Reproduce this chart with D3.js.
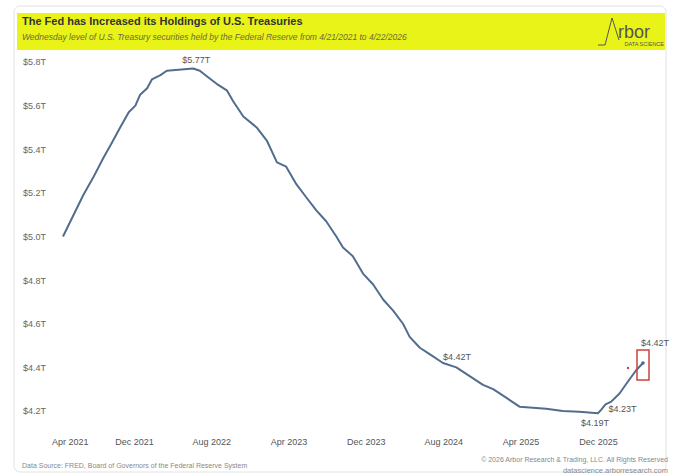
<!DOCTYPE html>
<html>
<head>
<meta charset="utf-8">
<script src="https://cdn.jsdelivr.net/npm/d3@7"></script>
<style>
  body { margin: 0; background: #fff; }
  svg { font-family: "Liberation Sans", Arial, sans-serif; }
</style>
</head>
<body>
<svg id="chart" width="675" height="476"></svg>
<script>
// weekly level (trillions of $)
var dates = ["2021-04-21","2021-05-28","2021-06-24","2021-07-25","2021-08-26","2021-09-22","2021-10-18","2021-11-14","2021-12-05","2021-12-20",
  "2022-01-11","2022-01-26","2022-02-22","2022-03-14","2022-06-05","2022-06-26","2022-07-22","2022-08-18","2022-09-19","2022-10-09","2022-11-10","2022-12-22",
  "2023-01-23","2023-02-24","2023-03-25","2023-04-26","2023-05-27","2023-06-28","2023-07-29","2023-08-30","2023-09-20","2023-10-21","2023-11-22","2023-12-24",
  "2024-01-25","2024-02-25","2024-03-27","2024-04-17","2024-05-19","2024-06-20","2024-07-31","2024-09-11","2024-10-23","2024-12-04",
  "2025-01-05","2025-02-16","2025-03-29","2025-05-10","2025-06-21","2025-08-12","2025-10-03","2025-12-01","2025-12-11","2025-12-25",
  "2026-01-12","2026-02-07","2026-03-05","2026-04-01","2026-04-22"];
var values = [5.00,5.11,5.19,5.27,5.36,5.43,5.50,5.57,5.60,5.65,
  5.68,5.72,5.74,5.76,5.77,5.76,5.73,5.70,5.67,5.62,5.55,5.50,
  5.44,5.34,5.32,5.24,5.18,5.12,5.07,5.00,4.95,4.91,4.83,4.78,
  4.71,4.66,4.60,4.54,4.49,4.46,4.42,4.40,4.36,4.32,
  4.30,4.26,4.22,4.215,4.21,4.20,4.197,4.19,4.205,4.23,
  4.243,4.28,4.334,4.388,4.42];

var xTicks = ["2021-04","2021-12","2022-08","2023-04","2023-12","2024-08","2025-04","2025-12"];
var yTicks = [4.2,4.4,4.6,4.8,5.0,5.2,5.4,5.6,5.8];

var labelDates = ["2022-06-05","2024-07-31","2025-12-01","2025-12-25","2026-04-22"];
var labelTexts = ["$5.77T","$4.42T","$4.19T","$4.23T","$4.42T"];

var parseDay = d3.timeParse("%Y-%m-%d");
var parseMonth = d3.timeParse("%Y-%m");
var data = dates.map(function(d, i) { return { date: parseDay(d), value: values[i] }; });

var svg = d3.select("#chart");

// card + header
svg.append("rect").attr("x", 14).attr("y", 6).attr("width", 652).attr("height", 466)
  .attr("rx", 6).attr("fill", "#fff").attr("stroke", "#e2e2e2");
svg.append("rect").attr("x", 17).attr("y", 13).attr("width", 648).attr("height", 37)
  .attr("fill", "#e9f317");
svg.append("text").attr("x", 22).attr("y", 25)
  .attr("font-size", 11).attr("font-weight", "bold").attr("fill", "#333")
  .text("The Fed has Increased its Holdings of U.S. Treasuries");
svg.append("text").attr("x", 22).attr("y", 40)
  .attr("font-size", 8.5).attr("font-style", "italic").attr("fill", "#6a6b3c")
  .text("Wednesday level of U.S. Treasury securities held by the Federal Reserve from 4/21/2021 to 4/22/2026");

// logo
svg.append("path").attr("d", "M598,45 L605,45 L612,18 L619,40")
  .attr("fill", "none").attr("stroke", "#555").attr("stroke-width", 1);
svg.append("text").attr("x", 618).attr("y", 38).attr("font-size", 18).attr("font-weight", 300)
  .attr("fill", "#555").text("rbor");
svg.append("text").attr("x", 664).attr("y", 46).attr("text-anchor", "end")
  .attr("font-size", 5.5).attr("fill", "#555").text("DATA SCIENCE");

// scales
var x = d3.scaleTime()
  .domain([parseDay("2021-04-21"), parseDay("2026-04-22")])
  .range([63, 643]);
var y = d3.scaleLinear().domain([4.2, 5.8]).range([411, 62]);

// y axis
var gy = svg.append("g").attr("transform", "translate(23,0)")
  .call(d3.axisLeft(y).tickValues(yTicks).tickSize(0)
    .tickFormat(function(d) { return "$" + d.toFixed(1) + "T"; }));
gy.select(".domain").remove();
gy.selectAll("text").attr("x", 0).attr("text-anchor", "start")
  .attr("font-size", 9).attr("fill", "#666").attr("font-family", null);

// x axis
var gx = svg.append("g").attr("transform", "translate(0,436)")
  .call(d3.axisBottom(x).tickValues(xTicks.map(parseMonth)).tickSize(0).tickPadding(3)
    .tickFormat(d3.timeFormat("%b %Y")));
gx.select(".domain").remove();
gx.selectAll("text").attr("font-size", 9).attr("fill", "#555").attr("font-family", null);
gx.selectAll("text").filter(function(d, i) { return i === 0; }).attr("dx", 13);

// line
var line = d3.line()
  .x(function(d) { return x(d.date); })
  .y(function(d) { return y(d.value); });
svg.append("path").datum(data)
  .attr("fill", "none").attr("stroke", "#516d8e")
  .attr("stroke-width", 2).attr("stroke-linejoin", "round")
  .attr("d", line);

// labels
var offsets = [[3, -6, "middle"], [0, -3, "start"], [-3, 13, "middle"], [3, 8, "start"], [12, -17, "middle"]];
labelDates.forEach(function(d, i) {
  var p = data.find(function(e) { return +e.date === +parseDay(d); });
  svg.append("text")
    .attr("x", x(p.date) + offsets[i][0]).attr("y", y(p.value) + offsets[i][1])
    .attr("text-anchor", offsets[i][2])
    .attr("font-size", 9).attr("fill", "#555")
    .text(labelTexts[i]);
});

// highlight on the last value
var last = data[data.length - 1];
svg.append("rect")
  .attr("x", x(last.date) - 6).attr("y", y(last.value) - 13)
  .attr("width", 12).attr("height", 30)
  .attr("fill", "none").attr("stroke", "#c9443c").attr("stroke-width", 1.5);
svg.append("circle").attr("cx", x(last.date) - 15).attr("cy", y(last.value) + 5)
  .attr("r", 1.2).attr("fill", "#c9443c");
svg.append("circle").attr("cx", x(last.date)).attr("cy", y(last.value))
  .attr("r", 1.8).attr("fill", "#516d8e");

// footer
svg.append("text").attr("x", 22).attr("y", 468).attr("font-size", 7).attr("fill", "#888")
  .text("Data Source: FRED, Board of Governors of the Federal Reserve System");
svg.append("text").attr("x", 668).attr("y", 462).attr("text-anchor", "end")
  .attr("font-size", 7).attr("fill", "#888")
  .text("© 2026 Arbor Research & Trading, LLC. All Rights Reserved");
svg.append("text").attr("x", 668).attr("y", 473).attr("text-anchor", "end")
  .attr("font-size", 7.5).attr("fill", "#888")
  .text("datascience.arborresearch.com");
</script>
</body>
</html>
